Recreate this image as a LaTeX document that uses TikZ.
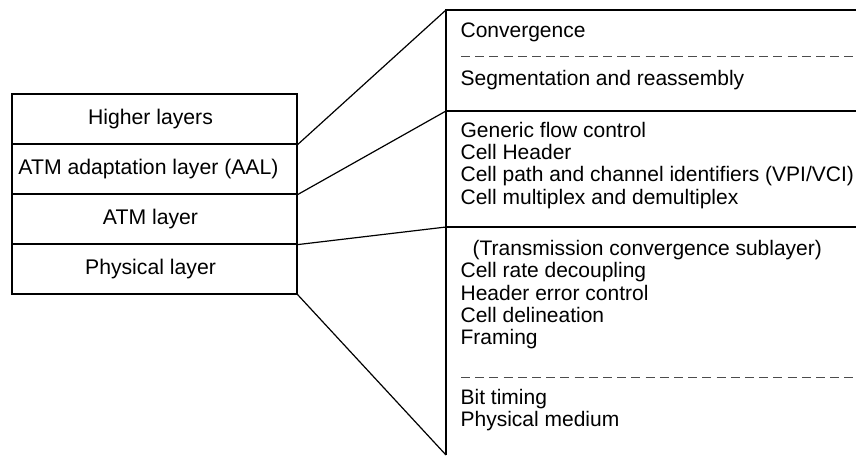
\documentclass[tikz,border=0pt]{standalone}
\usepackage{fontspec}
\setmainfont{Liberation Sans}
\begin{document}
\begin{tikzpicture}[x=1pt,y=-1pt,line width=1.2pt,
  lay/.style={draw, minimum width=285pt, minimum height=50pt, inner sep=0pt},
  ltxt/.style={inner sep=0pt, font=\fontsize{21.2}{24}\selectfont},
  txt/.style={anchor=base west, inner sep=0pt, font=\fontsize{21}{24}\selectfont},
  sep/.style={line width=1pt, black!70, dash pattern=on 9pt off 5.2pt}]
\useasboundingbox (0,0) rectangle (856,456);
\node[lay] (h) at (154.5,119) {};
\node[lay] (aal) at (154.5,169) {};
\node[lay] (atm) at (154.5,219) {};
\node[lay] (phy) at (154.5,269) {};
\node[ltxt] (lh) at (150.5,119) {Higher layers};
\node[ltxt] (laal) at (148.5,169) {ATM adaptation layer (AAL)};
\node[ltxt] (latm) at (150.5,219) {ATM layer};
\node[ltxt] (lphy) at (150.5,269) {Physical layer};
\coordinate (pt) at (446,10);
\coordinate (p1) at (446,111);
\coordinate (p2) at (446,227);
\coordinate (pb) at (446,455);
\coordinate (rt) at (856,10);
\coordinate (r1) at (856,111);
\coordinate (r2) at (856,227);
\draw (rt) -- (pt) -- (pb);
\draw (p1) -- (r1);
\draw (p2) -- (r2);
\draw (h.south east) -- (pt);
\draw (aal.south east) -- (p1);
\draw (atm.south east) -- (p2);
\draw (phy.south east) -- (pb);
\coordinate (d1a) at (461,56.5);
\coordinate (d1b) at (856,56.5);
\coordinate (d2a) at (461,377);
\coordinate (d2b) at (856,377);
\draw[sep] (d1a) -- (d1b);
\draw[sep] (d2a) -- (d2b);
\node[txt] (t1) at (460,37) {Convergence};
\node[txt] (t2) at (460,85) {Segmentation and reassembly};
\node[txt] (t3) at (460,137) {Generic flow control};
\node[txt] (t4) at (460,159.3) {Cell Header};
\node[txt] (t5) at (460,181.6) {Cell path and channel identifiers (VPI/VCI)};
\node[txt] (t6) at (460,204) {Cell multiplex and demultiplex};
\node[txt] (t7) at (472,255) {(Transmission convergence sublayer)};
\node[txt] (t8) at (460,277.5) {Cell rate decoupling};
\node[txt] (t9) at (460,300) {Header error control};
\node[txt] (t10) at (460,322.3) {Cell delineation};
\node[txt] (t11) at (460,344.6) {Framing};
\node[txt] (t12) at (460,404) {Bit timing};
\node[txt] (t13) at (460,426.3) {Physical medium};
\end{tikzpicture}
\end{document}
